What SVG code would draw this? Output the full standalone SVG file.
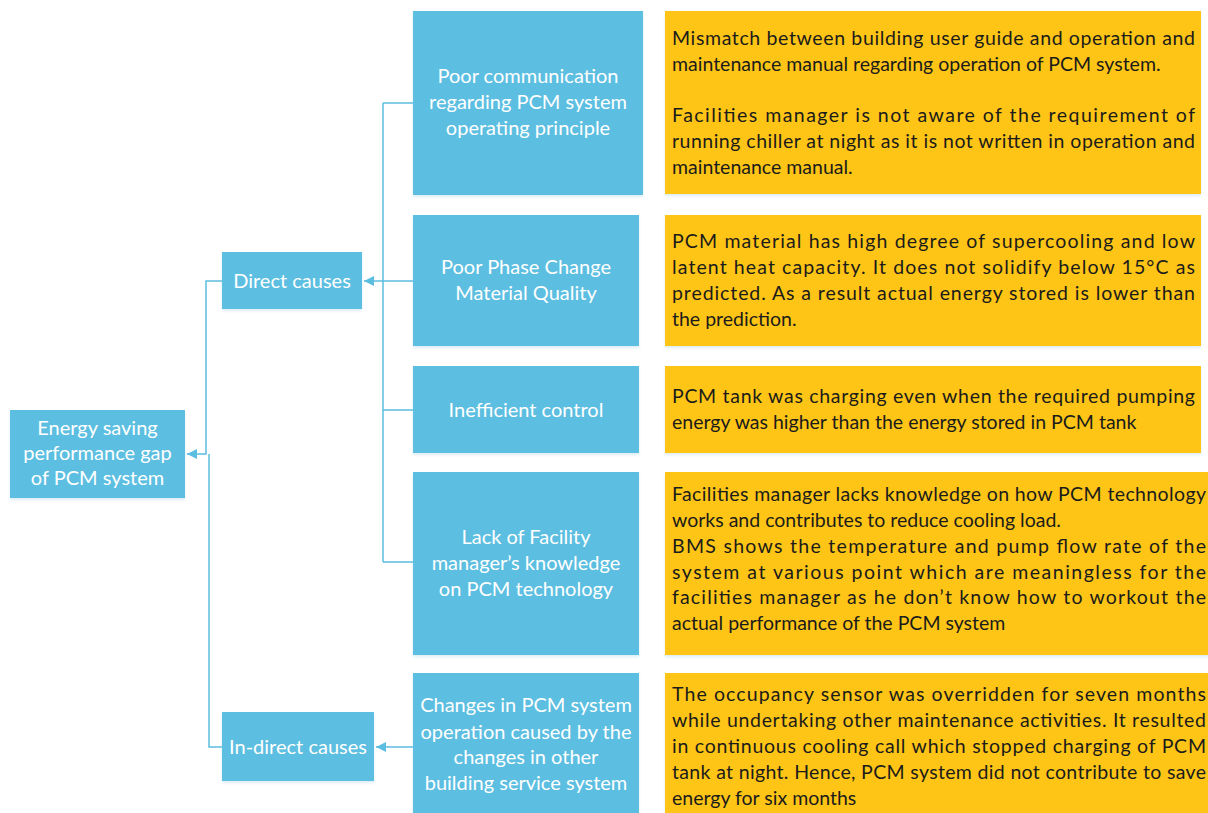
<svg xmlns="http://www.w3.org/2000/svg" width="1208" height="813" viewBox="0 0 1208 813">
<defs>
<filter id="sh" x="-5%" y="-5%" width="110%" height="115%">
<feDropShadow dx="0" dy="2" stdDeviation="1.5" flood-color="#9ccfe3" flood-opacity="0.35"/>
</filter>
<marker id="arr" markerUnits="userSpaceOnUse" markerWidth="12" markerHeight="12" viewBox="0 0 12 12" refX="11" refY="6" orient="auto">
<path d="M1,1 L11,6 L1,11 Z" fill="#5bbde0"/>
</marker>
</defs>
<style>
.b{fill:#5bbee0;filter:url(#sh)}
.y{fill:#fec515;filter:url(#sh)}
.bt{font-family:Lato,"Open Sans",sans-serif;font-size:20px;fill:#ffffff;text-anchor:middle}
.yt{font-family:Lato,"Open Sans",sans-serif;font-size:19.5px;fill:#1b1b1b}
.c{fill:none;stroke:#5bbde0;stroke-width:1.5}
</style>
<rect width="1208" height="813" fill="#ffffff"/>
<g id="connectors">
<path class="c" d="M222,281 H206 V454 H187" marker-end="url(#arr)"/>
<path class="c" d="M222,747 H209 V454"/>
<path class="c" d="M383,103 V562"/>
<path class="c" d="M383,103 H413 M383,410 H413 M383,562 H413"/>
<path class="c" d="M413,281 H364" marker-end="url(#arr)"/>
<path class="c" d="M413,747 H376" marker-end="url(#arr)"/>
</g>
<g id="root">
<rect class="b" x="10" y="410" width="175" height="88"/>
<text class="bt" x="97.5"><tspan x="97.5" y="435">Energy saving</tspan><tspan x="97.5" y="460">performance gap</tspan><tspan x="97.5" y="485">of PCM system</tspan></text>
</g>
<g id="direct">
<rect class="b" x="222" y="252" width="140" height="57"/>
<text class="bt" x="292" y="288">Direct causes</text>
</g>
<g id="indirect">
<rect class="b" x="222" y="712" width="152" height="69"/>
<text class="bt" x="298" y="754">In-direct causes</text>
</g>
<g id="c1">
<rect class="b" x="413" y="11" width="230" height="184"/>
<text class="bt"><tspan x="528" y="83">Poor communication</tspan><tspan x="528" y="109">regarding PCM system</tspan><tspan x="528" y="135">operating principle</tspan></text>
</g>
<g id="c2">
<rect class="b" x="413" y="215" width="226" height="131"/>
<text class="bt"><tspan x="526" y="274">Poor Phase Change</tspan><tspan x="526" y="300">Material Quality</tspan></text>
</g>
<g id="c3">
<rect class="b" x="413" y="366" width="226" height="87"/>
<text class="bt" x="526" y="417">Inefficient control</text>
</g>
<g id="c4">
<rect class="b" x="413" y="472" width="226" height="183"/>
<text class="bt"><tspan x="526" y="544">Lack of Facility</tspan><tspan x="526" y="570">manager’s knowledge</tspan><tspan x="526" y="596">on PCM technology</tspan></text>
</g>
<g id="c5">
<rect class="b" x="413" y="673" width="226" height="145"/>
<text class="bt"><tspan x="526" y="712">Changes in PCM system</tspan><tspan x="526" y="739">operation caused by the</tspan><tspan x="526" y="764">changes in other</tspan><tspan x="526" y="790">building service system</tspan></text>
</g>
<g id="d1">
<rect class="y" x="665" y="11" width="536" height="183"/>
<text class="yt" x="672" y="45" textLength="523" lengthAdjust="spacing">Mismatch between building user guide and operation and</text>
<text class="yt" x="672" y="71">maintenance manual regarding operation of PCM system.</text>
<text class="yt" x="672" y="122" textLength="523" lengthAdjust="spacing">Facilities manager is not aware of the requirement of</text>
<text class="yt" x="672" y="148" textLength="523" lengthAdjust="spacing">running chiller at night as it is not written in operation and</text>
<text class="yt" x="672" y="174">maintenance manual.</text>
</g>
<g id="d2">
<rect class="y" x="665" y="215" width="536" height="131"/>
<text class="yt" x="672" y="248" textLength="523" lengthAdjust="spacing">PCM material has high degree of supercooling and low</text>
<text class="yt" x="672" y="274" textLength="523" lengthAdjust="spacing">latent heat capacity. It does not solidify below 15°C as</text>
<text class="yt" x="672" y="300" textLength="523" lengthAdjust="spacing">predicted. As a result actual energy stored is lower than</text>
<text class="yt" x="672" y="326">the prediction.</text>
</g>
<g id="d3">
<rect class="y" x="665" y="366" width="536" height="87"/>
<text class="yt" x="672" y="403" textLength="523" lengthAdjust="spacing">PCM tank was charging even when the required pumping</text>
<text class="yt" x="672" y="429">energy was higher than the energy stored in PCM tank</text>
</g>
<g id="d4">
<rect class="y" x="665" y="472" width="545" height="183"/>
<text class="yt" x="672" y="501" textLength="534" lengthAdjust="spacing">Facilities manager lacks knowledge on how PCM technology</text>
<text class="yt" x="672" y="527">works and contributes to reduce cooling load.</text>
<text class="yt" x="672" y="553" textLength="534" lengthAdjust="spacing">BMS shows the temperature and pump flow rate of the</text>
<text class="yt" x="672" y="579" textLength="534" lengthAdjust="spacing">system at various point which are meaningless for the</text>
<text class="yt" x="672" y="604" textLength="534" lengthAdjust="spacing">facilities manager as he don’t know how to workout the</text>
<text class="yt" x="672" y="630" fill="#111">actual performance of the PCM system</text>
</g>
<g id="d5">
<rect class="y" x="665" y="673" width="545" height="145"/>
<text class="yt" x="672" y="701" textLength="534" lengthAdjust="spacing">The occupancy sensor was overridden for seven months</text>
<text class="yt" x="672" y="727" textLength="534" lengthAdjust="spacing">while undertaking other maintenance activities. It resulted</text>
<text class="yt" x="672" y="753" textLength="534" lengthAdjust="spacing">in continuous cooling call which stopped charging of PCM</text>
<text class="yt" x="672" y="779" textLength="534" lengthAdjust="spacing">tank at night. Hence, PCM system did not contribute to save</text>
<text class="yt" x="672" y="805">energy for six months</text>
</g>
</svg>
